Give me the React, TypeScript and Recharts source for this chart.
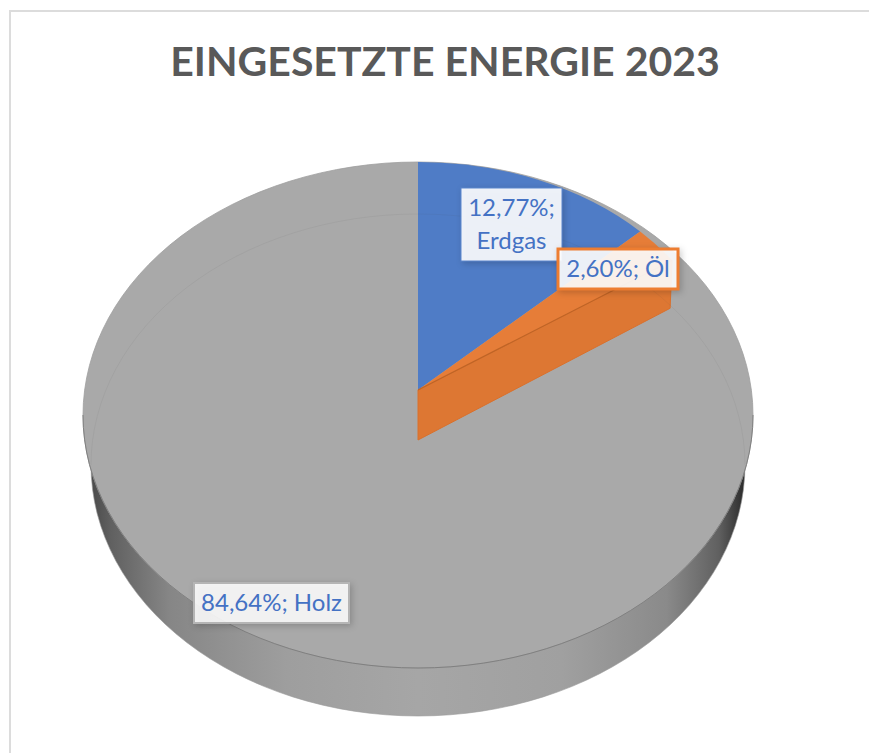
import React from "react";
import { PieChart, Pie } from "recharts";

const categories = ["Erdgas", "Öl", "Holz"];
const shares = [12.77, 2.6, 84.64];
const chartTitle = "EINGESETZTE ENERGIE 2023";

const W = 869;
const H = 753;
const FONT = "Lato, 'Open Sans', sans-serif";
const TEXT_BLUE = "#4472c4";
const FACE_GRAY = "#a9a9a9";

const data = categories.map((name, i) => ({ name, value: shares[i] }));

// Layout of the perspective view
const CX = 418;
const FACE_CY = 415;
const FACE_RX = 335;
const FACE_RY = 253;
const SLICE_CY = 390;
const SLICE_RX = 309;
const SLICE_RY = 228;
const DEPTH = 50;
const BASE_RX = 327;
const BASE_RY = 251;

const labelBoxes = [
  { x: 461, y: 188, w: 101, h: 73, border: "#5b85cc", sw: 1, fill: "rgba(255,255,255,0.9)" },
  { x: 558, y: 249, w: 120, h: 40, border: "#ed7d31", sw: 3, fill: "rgba(255,255,255,0.9)" },
  { x: 194, y: 583, w: 155, h: 40, border: "#b5b5b5", sw: 2, fill: "rgba(255,255,255,0.88)" },
];

const rad = (d: number) => (d * Math.PI) / 180;

function GrayShape(props: any) {
  const { cx, cy, outerRadius, index } = props;
  if (index !== 2) return <g />;
  const baseCy = cy + DEPTH;
  return (
    <g>
      <ellipse cx={cx} cy={baseCy} rx={BASE_RX} ry={BASE_RY} fill="url(#wallGrad)" stroke="#9a9a9a" strokeWidth={0.6} />
      <ellipse cx={cx} cy={cy} rx={outerRadius} ry={FACE_RY} fill={FACE_GRAY} stroke="#9e9e9e" strokeWidth={0.8} />
      <path
        d={`M${cx - outerRadius},${cy} A${outerRadius},${FACE_RY} 0 0 0 ${cx + outerRadius},${cy}`}
        fill="none"
        stroke="#808080"
        strokeWidth={1}
      />
    </g>
  );
}

function SliceShape(props: any) {
  const { cx, cy, outerRadius, startAngle, endAngle, index } = props;
  if (index === 2) return <g />;
  const rx = outerRadius;
  const ry = SLICE_RY;
  const pt = (a: number) => [cx + rx * Math.cos(rad(a)), cy - ry * Math.sin(rad(a))];
  const [sx, sy] = pt(startAngle);
  const [ex, ey] = pt(endAngle);
  const top = `M${cx},${cy} L${sx},${sy} A${rx},${ry} 0 0 1 ${ex},${ey} Z`;
  if (index === 0) {
    return (
      <g>
        <path d={top} fill="#4f7cc6" />
      </g>
    );
  }
  const wall = `M${cx},${cy} L${ex},${ey} L${ex - 2},${ey + DEPTH - 2} L${cx},${cy + DEPTH} Z`;
  return (
    <g>
      <path d={wall} fill="#dd7733" stroke="#d9702c" strokeWidth={1} />
      <path d={top} fill="#e67d38" />
      <path d={`M${cx},${cy} L${ex},${ey}`} stroke="#bf6426" strokeWidth={1.2} fill="none" />
      <path
        d={`M${CX - BASE_RX},${FACE_CY + DEPTH} A${BASE_RX},${BASE_RY} 0 0 1 ${CX + BASE_RX},${FACE_CY + DEPTH}`}
        fill="none"
        stroke="rgba(70,70,70,0.07)"
        strokeWidth={1}
      />
    </g>
  );
}

function renderLabel(props: any) {
  const { index, value, name } = props;
  const b = labelBoxes[index];
  const pct = `${Number(value).toFixed(2).replace(".", ",")}%;`;
  const cxText = b.x + b.w / 2;
  return (
    <g key={name}>
      <rect
        x={b.x}
        y={b.y}
        width={b.w}
        height={b.h}
        fill={b.fill}
        stroke={b.border}
        strokeWidth={b.sw}
        style={{ filter: "drop-shadow(2px 2px 3px rgba(0,0,0,0.2))" }}
      />
      {index === 0 ? (
        <text textAnchor="middle" fontFamily={FONT} fontSize={24} fill={TEXT_BLUE}>
          <tspan x={cxText} y={b.y + 28}>{pct}</tspan>
          <tspan x={cxText} y={b.y + 61}>{name}</tspan>
        </text>
      ) : (
        <text x={cxText} y={b.y + 28} textAnchor="middle" fontFamily={FONT} fontSize={24} fill={TEXT_BLUE}>
          {`${pct} ${name}`}
        </text>
      )}
    </g>
  );
}

export default function App() {
  return (
    <div style={{ position: "fixed", left: 0, top: 0, width: W, height: H, background: "#fff", overflow: "hidden" }}>
      <div style={{ position: "absolute", left: 9, top: 10, width: W + 20, height: H + 20, border: "2px solid #dcdcdc" }} />
      <PieChart width={W} height={H} margin={{ top: 0, right: 0, bottom: 0, left: 0 }} style={{ position: "absolute", left: 0, top: 0 }}>
        <defs>
          <linearGradient id="wallGrad" x1="0" y1="0" x2="1" y2="0">
            <stop offset="0" stopColor="#4a4a4a" />
            <stop offset="0.03" stopColor="#606060" />
            <stop offset="0.12" stopColor="#868686" />
            <stop offset="0.3" stopColor="#9e9e9e" />
            <stop offset="0.5" stopColor="#a6a6a6" />
            <stop offset="0.72" stopColor="#a0a0a0" />
            <stop offset="0.88" stopColor="#8a8a8a" />
            <stop offset="0.96" stopColor="#606060" />
            <stop offset="1" stopColor="#2a2a2a" />
          </linearGradient>
        </defs>
        <text x={445} y={76} textAnchor="middle" fontFamily={FONT} fontWeight={700} fontSize={41} fill="#595959">
          {chartTitle}
        </text>
        <Pie
          data={data}
          dataKey="value"
          nameKey="name"
          cx={CX}
          cy={FACE_CY}
          innerRadius={0}
          outerRadius={FACE_RX}
          startAngle={90}
          endAngle={-270}
          stroke="none"
          shape={GrayShape}
          isAnimationActive={false}
        />
        <Pie
          data={data}
          dataKey="value"
          nameKey="name"
          cx={CX}
          cy={SLICE_CY}
          innerRadius={0}
          outerRadius={SLICE_RX}
          startAngle={90}
          endAngle={-270}
          stroke="none"
          shape={SliceShape}
          label={renderLabel}
          labelLine={false}
          isAnimationActive={false}
        />
      </PieChart>
    </div>
  );
}
